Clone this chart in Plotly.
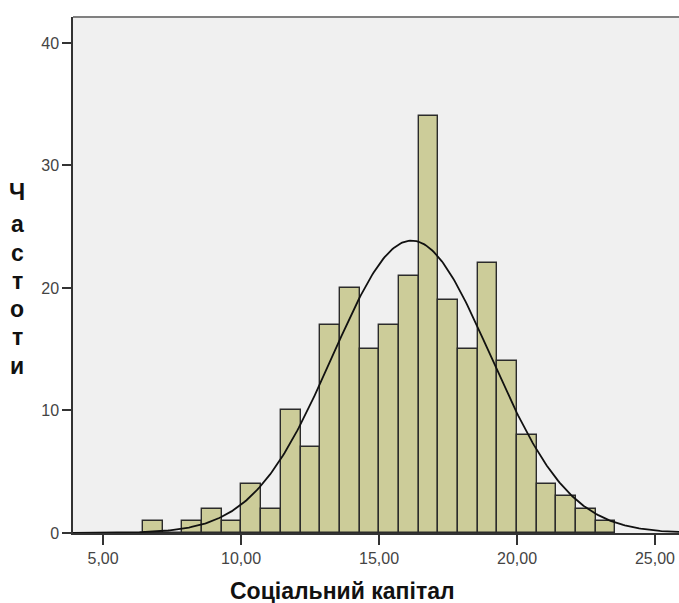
import numpy as np
import plotly.graph_objects as go

# ---- data ----
bin_start = 6.45          # left edge of first bin
bin_width = 0.713         # width of each bin
counts = [1, 0, 1, 2, 1, 4, 2, 10, 7, 17, 20, 15, 17, 21, 34, 19, 15, 22, 14, 8, 4, 3, 2, 1]
curve_mean = 16.18        # normal curve parameters (estimated)
curve_sd = 2.86
x_tickvals = [5, 10, 15, 20, 25]
x_ticktext = ["5,00", "10,00", "15,00", "20,00", "25,00"]
y_tickvals = [0, 10, 20, 30, 40]
y_title_letters = ["Ч", "а", "с", "т", "о", "т", "и"]
x_title = "Соціальний капітал"

# ---- derived ----
n_total = sum(counts)
centers = [bin_start + bin_width * (i + 0.5) for i in range(len(counts))]
xc = np.linspace(3.5, 26.5, 400)
yc = n_total * bin_width / (curve_sd * np.sqrt(2 * np.pi)) * np.exp(-0.5 * ((xc - curve_mean) / curve_sd) ** 2)

W, H = 679, 603
ml, mr, mt, mb = 73, 0, 17, 70

fig = go.Figure()
fig.add_trace(go.Bar(
    x=centers, y=counts, width=bin_width,
    marker=dict(color="#CCCC99", line=dict(color="#2b2b2b", width=1.4)),
    showlegend=False, hoverinfo="skip",
))
fig.add_trace(go.Scatter(
    x=xc, y=yc, mode="lines", line=dict(color="#111111", width=1.8),
    showlegend=False, hoverinfo="skip",
))

font_family = "Liberation Sans, Arial, sans-serif"

fig.update_layout(
    width=W, height=H,
    margin=dict(l=ml, r=mr, t=mt, b=mb),
    paper_bgcolor="white",
    plot_bgcolor="#F0F0F0",
    bargap=0,
    font=dict(family=font_family, color="#333333"),
    xaxis=dict(
        range=[3.91, 25.87],
        tickvals=x_tickvals, ticktext=x_ticktext,
        ticks="outside", ticklen=10, tickwidth=1.5, tickcolor="#333333",
        showline=True, linecolor="#333333", linewidth=1.5,
        showgrid=False, zeroline=False,
        tickfont=dict(size=16, color="#444444", family=font_family),
    ),
    yaxis=dict(
        range=[0, 42.12],
        tickvals=y_tickvals,
        ticks="outside", ticklen=9, tickwidth=1.5, tickcolor="#333333",
        showline=True, linecolor="#333333", linewidth=1.5,
        showgrid=False, zeroline=False,
        tickfont=dict(size=16, color="#444444", family=font_family),
    ),
)

# top border of plot area
fig.add_shape(type="line", xref="paper", yref="paper", x0=0, x1=1, y0=1, y1=1,
              line=dict(color="#808080", width=2))

# vertical y-axis title, one letter per line (window pixel positions)
plot_h = H - mt - mb
plot_w = W - ml - mr
letter_px_y = [192, 224, 253, 281, 309, 337, 366]
for letter, py in zip(y_title_letters, letter_px_y):
    fig.add_annotation(
        text=letter, xref="paper", yref="paper",
        x=(17 - ml) / plot_w, y=(H - mb - py) / plot_h,
        xanchor="center", yanchor="middle", showarrow=False,
        font=dict(size=23, color="#111111", family=font_family, weight="bold"),
    )

fig.add_annotation(
    text="<b>" + x_title + "</b>", xref="paper", yref="paper",
    x=(342 - ml) / plot_w, y=(H - mb - 591) / plot_h,
    xanchor="center", yanchor="middle", showarrow=False,
    font=dict(size=23, color="#111111", family=font_family),
)

fig.write_html(
    "out.html",
    config={"displayModeBar": False},
    post_script="document.body.style.margin='0px';document.documentElement.style.overflow='hidden';document.body.style.overflow='hidden';",
)
